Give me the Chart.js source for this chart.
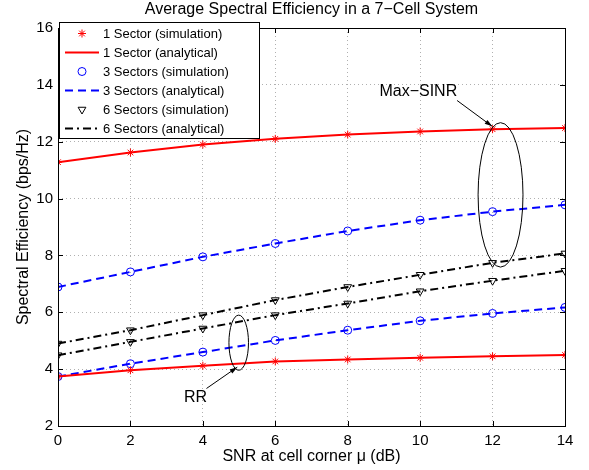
<!DOCTYPE html>
<html>
<head>
<meta charset="utf-8">
<script src="https://cdn.jsdelivr.net/npm/chart.js@4.4.0/dist/chart.umd.min.js"></script>
<style>
  html, body { margin: 0; padding: 0; background: #fff; }
  #wrap { width: 589px; height: 470px; }
</style>
</head>
<body>
<div id="wrap"><canvas id="seChart" width="589" height="470"></canvas></div>
<script>
// SNR at cell corner (dB)
var snr = [0, 2, 4, 6, 8, 10, 12, 14];
// Max-SINR scheduling
var maxSinr1 = [11.28, 11.62, 11.90, 12.10, 12.25, 12.36, 12.44, 12.48];
var maxSinr3 = [6.89, 7.42, 7.95, 8.42, 8.86, 9.24, 9.54, 9.78];
var maxSinr6 = [4.90, 5.37, 5.90, 6.43, 6.89, 7.32, 7.74, 8.07];
// Round robin scheduling
var rr1 = [3.74, 3.96, 4.12, 4.27, 4.34, 4.40, 4.45, 4.50];
var rr3 = [3.74, 4.19, 4.60, 5.01, 5.37, 5.70, 5.96, 6.17];
var rr6 = [4.49, 4.96, 5.43, 5.90, 6.31, 6.74, 7.11, 7.46];

var xTicks = [0, 2, 4, 6, 8, 10, 12, 14];
var yTicks = [2, 4, 6, 8, 10, 12, 14, 16];
var legendLabels = [
  '1 Sector (simulation)', '1 Sector (analytical)',
  '3 Sectors (simulation)', '3 Sectors (analytical)',
  '6 Sectors (simulation)', '6 Sectors (analytical)'
];
var titleText = 'Average Spectral Efficiency in a 7\u2212Cell System';
var FONT = '"Liberation Sans", Arial, Helvetica, sans-serif';

var pts = function(ys) {
  return ys.map(function(y, i) { return { x: snr[i], y: y }; });
};

// styles per sector count
var styles = [
  { color: '#ff0000', dash: [], marker: 'star', rot: 0, r: 4 },
  { color: '#0000ff', dash: [8, 5], marker: 'circle', rot: 0, r: 4 },
  { color: '#000000', dash: [8, 4, 2, 4], marker: 'triangle', rot: 180, r: 4.5 }
];

var makeSim = function(ys, s, label) {
  return {
    label: label, data: pts(ys), showLine: false,
    pointStyle: s.marker, pointRotation: s.rot, pointRadius: s.r,
    borderColor: s.color, backgroundColor: 'rgba(0,0,0,0)', pointBorderWidth: 1
  };
};
var makeLine = function(ys, s, label) {
  return {
    label: label, data: pts(ys), showLine: true, pointRadius: 0,
    borderColor: s.color, borderWidth: 2, borderDash: s.dash,
    backgroundColor: s.color, tension: 0
  };
};

var datasets = [
  makeSim(maxSinr1, styles[0], legendLabels[0]), makeSim(rr1, styles[0], legendLabels[0]),
  makeLine(maxSinr1, styles[0], legendLabels[1]), makeLine(rr1, styles[0], legendLabels[1]),
  makeSim(maxSinr3, styles[1], legendLabels[2]), makeSim(rr3, styles[1], legendLabels[2]),
  makeLine(maxSinr3, styles[1], legendLabels[3]), makeLine(rr3, styles[1], legendLabels[3]),
  makeSim(maxSinr6, styles[2], legendLabels[4]), makeSim(rr6, styles[2], legendLabels[4]),
  makeLine(maxSinr6, styles[2], legendLabels[5]), makeLine(rr6, styles[2], legendLabels[5])
];

// annotations in data units
var ellipses = [
  { cx: 12.22, cy: 10.13, rx: 0.62, ry: 2.54 },
  { cx: 4.99, cy: 4.93, rx: 0.27, ry: 0.97 }
];
var notes = [
  { text: 'Max\u2212SINR', x: 9.95, y: 13.76, ax: [11.02, 13.45], bx: [11.99, 12.54] },
  { text: 'RR', x: 3.80, y: 3.0, ax: [4.10, 3.32], bx: [4.95, 4.07] }
];

var matlabLook = {
  id: 'matlabLook',
  afterDatasetsDraw: function(chart) {
    var ctx = chart.ctx;
    var a = chart.chartArea;
    var xs = chart.scales.x, ys = chart.scales.y;
    ctx.save();
    // box
    ctx.strokeStyle = '#000';
    ctx.lineWidth = 1;
    ctx.strokeRect(a.left + 0.5, a.top + 0.5, a.right - a.left, a.bottom - a.top);
    // inward ticks
    ctx.beginPath();
    xTicks.forEach(function(t) {
      var px = Math.round(xs.getPixelForValue(t)) + 0.5;
      ctx.moveTo(px, a.bottom); ctx.lineTo(px, a.bottom - 5);
      ctx.moveTo(px, a.top); ctx.lineTo(px, a.top + 5);
    });
    yTicks.forEach(function(t) {
      var py = Math.round(ys.getPixelForValue(t)) + 0.5;
      ctx.moveTo(a.left, py); ctx.lineTo(a.left + 5, py);
      ctx.moveTo(a.right, py); ctx.lineTo(a.right - 5, py);
    });
    ctx.stroke();

    // ellipses
    ctx.lineWidth = 1;
    ellipses.forEach(function(e) {
      var cx = xs.getPixelForValue(e.cx), cy = ys.getPixelForValue(e.cy);
      var rx = Math.abs(xs.getPixelForValue(e.cx + e.rx) - cx);
      var ry = Math.abs(ys.getPixelForValue(e.cy + e.ry) - cy);
      ctx.beginPath();
      ctx.ellipse(cx, cy, rx, ry, 0, 0, Math.PI * 2);
      ctx.stroke();
    });
    // notes + arrows
    ctx.font = '16px ' + FONT;
    ctx.fillStyle = '#000';
    ctx.textAlign = 'center';
    ctx.textBaseline = 'middle';
    notes.forEach(function(n) {
      ctx.fillText(n.text, xs.getPixelForValue(n.x), ys.getPixelForValue(n.y));
      var x0 = xs.getPixelForValue(n.ax[0]), y0 = ys.getPixelForValue(n.ax[1]);
      var x1 = xs.getPixelForValue(n.bx[0]), y1 = ys.getPixelForValue(n.bx[1]);
      var ang = Math.atan2(y1 - y0, x1 - x0);
      ctx.beginPath();
      ctx.moveTo(x0, y0); ctx.lineTo(x1, y1);
      ctx.stroke();
      ctx.beginPath();
      ctx.moveTo(x1, y1);
      ctx.lineTo(x1 - 8 * Math.cos(ang - 0.3), y1 - 8 * Math.sin(ang - 0.3));
      ctx.lineTo(x1 - 8 * Math.cos(ang + 0.3), y1 - 8 * Math.sin(ang + 0.3));
      ctx.closePath();
      ctx.fill();
    });

    // title
    ctx.font = '16px ' + FONT;
    ctx.textBaseline = 'middle';
    ctx.fillText(titleText, (a.left + a.right) / 2, 10);

    // legend
    var lx = a.left + 1, ly = 22, lw = 200, lh = 116;
    ctx.fillStyle = '#fff';
    ctx.fillRect(lx, ly, lw, lh);
    ctx.strokeStyle = '#000';
    ctx.strokeRect(lx + 0.5, ly + 0.5, lw, lh);
    ctx.textAlign = 'left';
    ctx.font = '13px ' + FONT;
    legendLabels.forEach(function(lbl, i) {
      var s = styles[Math.floor(i / 2)];
      var rowY = ly + 11.5 + i * 19;
      if (i % 2 === 0) {
        ctx.save();
        ctx.strokeStyle = s.color;
        ctx.fillStyle = 'rgba(0,0,0,0)';
        ctx.lineWidth = 1;
        Chart.helpers.drawPoint(ctx, {
          pointStyle: s.marker, rotation: s.rot, radius: s.r, borderWidth: 1
        }, lx + 23, rowY);
        ctx.restore();
      } else {
        ctx.save();
        ctx.strokeStyle = s.color;
        ctx.lineWidth = 2;
        ctx.setLineDash(s.dash);
        ctx.beginPath();
        ctx.moveTo(lx + 6, rowY); ctx.lineTo(lx + 40, rowY);
        ctx.stroke();
        ctx.restore();
      }
      ctx.fillStyle = '#000';
      ctx.fillText(lbl, lx + 44, rowY + 0.5);
    });
    ctx.restore();
  }
};

new Chart(document.getElementById('seChart'), {
  type: 'scatter',
  data: { datasets: datasets },
  plugins: [matlabLook],
  options: {
    responsive: false,
    animation: false,
    layout: { padding: { top: 28, right: 24, left: 0, bottom: 0 } },
    plugins: { legend: { display: false }, tooltip: { enabled: false } },
    scales: {
      x: {
        type: 'linear', min: 0, max: 14,
        afterFit: function(scale) { scale.height = 44; },
        afterBuildTicks: function(scale) { scale.ticks = xTicks.map(function(v) { return { value: v }; }); },
        ticks: { color: '#000', font: { family: FONT, size: 15 }, padding: 6 },
        grid: { color: '#b0b0b0', lineWidth: 1, drawTicks: false },
        border: { display: false, dash: [1, 3] },
        title: { display: true, text: 'SNR at cell corner \u03bc (dB)', color: '#000',
                 font: { family: FONT, size: 16 }, padding: { top: 0, bottom: 4 } }
      },
      y: {
        type: 'linear', min: 2, max: 16,
        afterFit: function(scale) { scale.width = 58; },
        afterBuildTicks: function(scale) { scale.ticks = yTicks.map(function(v) { return { value: v }; }); },
        ticks: { color: '#000', font: { family: FONT, size: 15 }, padding: 5 },
        grid: { color: '#b0b0b0', lineWidth: 1, drawTicks: false },
        border: { display: false, dash: [1, 3] },
        title: { display: true, text: 'Spectral Efficiency (bps/Hz)', color: '#000',
                 font: { family: FONT, size: 16 }, padding: { top: 14, bottom: 0 } }
      }
    }
  }
});
</script>
</body>
</html>
